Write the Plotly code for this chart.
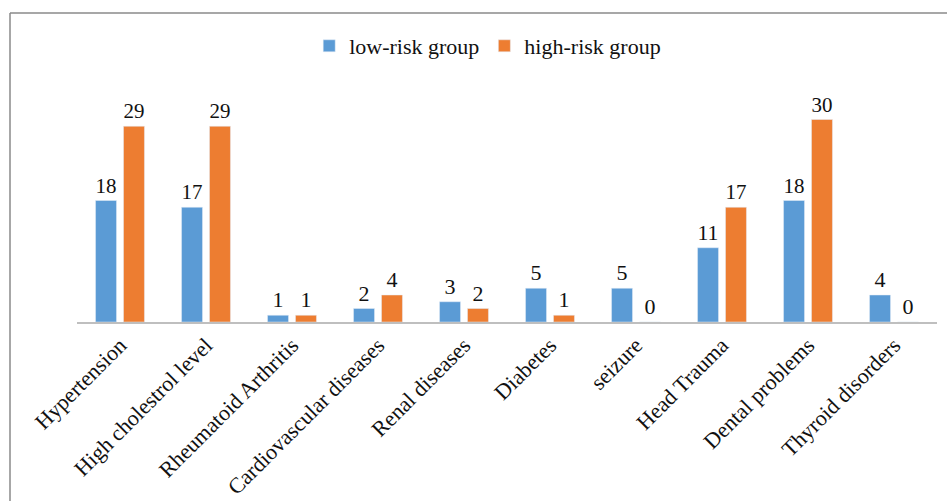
import plotly.graph_objects as go

categories = ["Hypertension", "High cholestrol level", "Rheumatoid Arthritis",
              "Cardiovascular diseases", "Renal diseases", "Diabetes", "seizure",
              "Head Trauma", "Dental problems", "Thyroid disorders"]
low_risk = [18, 17, 1, 2, 3, 5, 5, 11, 18, 4]
high_risk = [29, 29, 1, 4, 2, 1, 0, 17, 30, 0]

W, H = 947, 501
L, R, T, B = 77, 10, 106, 179
pw, ph = W - L - R, H - T - B

def px(x):
    return (x - L) / pw

def py(y):
    return (H - B - y) / ph

font_family = "Liberation Serif"

fig = go.Figure()
fig.add_trace(go.Bar(x=categories, y=low_risk, name="low-risk group",
                     marker=dict(color="#5B9BD5"),
                     text=low_risk, textposition="outside", cliponaxis=False,
                     textfont=dict(size=22, color="#111111", family=font_family)))
fig.add_trace(go.Bar(x=categories, y=high_risk, name="high-risk group",
                     marker=dict(color="#ED7D31"),
                     text=high_risk, textposition="outside", cliponaxis=False,
                     textfont=dict(size=22, color="#111111", family=font_family)))

fig.update_layout(
    width=W, height=H,
    margin=dict(l=L, r=R, t=T, b=B, autoexpand=False),
    paper_bgcolor="white", plot_bgcolor="white",
    barmode="group", bargap=0.35, bargroupgap=0.25,
    font=dict(family=font_family, size=22, color="#111111"),
    showlegend=True,
    legend=dict(orientation="h", xref="container", yref="container",
                x=0.515, xanchor="center", y=1 - 46 / H, yanchor="middle",
                font=dict(size=22, family=font_family), itemwidth=30,
                traceorder="normal"),
    xaxis=dict(tickangle=-45, showline=True, linecolor="#bfbfbf", linewidth=1.5,
               ticks="", showgrid=False, automargin=False,
               tickfont=dict(size=22, family=font_family, color="#111111")),
    yaxis=dict(range=[0, 32], visible=False, showgrid=False, zeroline=False,
               automargin=False),
    shapes=[
        dict(type="line", xref="paper", yref="paper", x0=px(10), x1=px(W + 5),
             y0=py(13), y1=py(13), line=dict(color="#8a8a8a", width=1.5)),
        dict(type="line", xref="paper", yref="paper", x0=px(10), x1=px(10),
             y0=py(13), y1=py(H + 5), line=dict(color="#8a8a8a", width=1.5)),
    ],
)

fig.write_html("out.html")
